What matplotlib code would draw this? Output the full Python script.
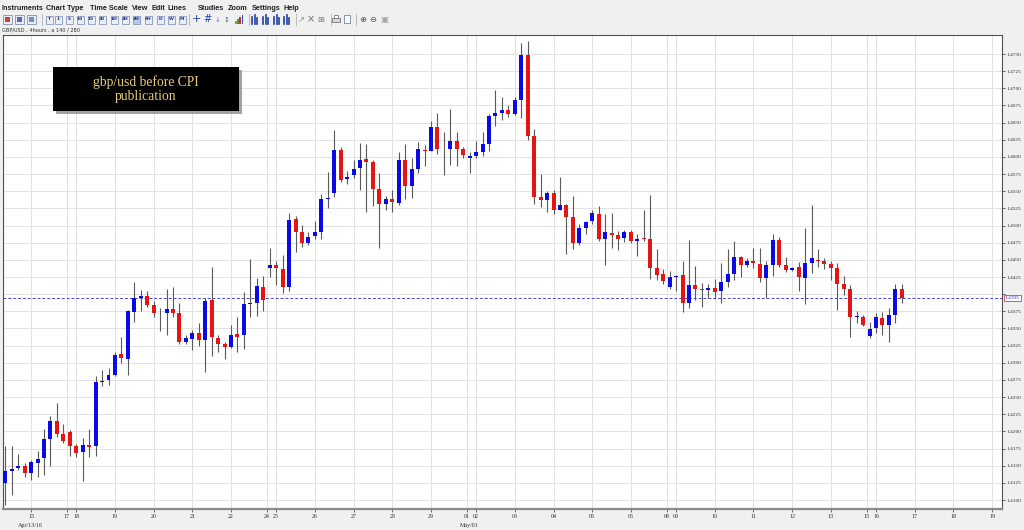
import matplotlib
matplotlib.use("Agg")
from matplotlib import pyplot as plt, patches
import numpy as np

# 4-hour GBP/USD candles, 140 bars (Apr 14 - May 16)
opens = [1.4125, 1.4143, 1.4147, 1.4150, 1.4139, 1.4154, 1.4161, 1.4189, 1.4215, 1.4196,
         1.4199, 1.4178, 1.4170, 1.4180, 1.4178, 1.4272, 1.4275, 1.4282, 1.4313, 1.4306,
         1.4374, 1.4394, 1.4397, 1.4384, 1.4372, 1.4373, 1.4379, 1.4372, 1.4331, 1.4335,
         1.4344, 1.4333, 1.4391, 1.4336, 1.4327, 1.4323, 1.4342, 1.4340, 1.4385, 1.4387,
         1.4411, 1.4438, 1.4442, 1.4437, 1.4411, 1.4509, 1.4491, 1.4474, 1.4485, 1.4490,
         1.4539, 1.4547, 1.4610, 1.4568, 1.4573, 1.4584, 1.4597, 1.4592, 1.4553, 1.4532,
         1.4538, 1.4533, 1.4596, 1.4558, 1.4582, 1.4610, 1.4609, 1.4643, 1.4611, 1.4611,
         1.4623, 1.4612, 1.4599, 1.4602, 1.4607, 1.4619, 1.4660, 1.4664, 1.4668, 1.4662,
         1.4683, 1.4748, 1.4630, 1.4541, 1.4537, 1.4547, 1.4523, 1.4530, 1.4512, 1.4474,
         1.4497, 1.4506, 1.4517, 1.4480, 1.4489, 1.4486, 1.4482, 1.4491, 1.4477, 1.4481,
         1.4480, 1.4438, 1.4429, 1.4411, 1.4425, 1.4428, 1.4387, 1.4414, 1.4407, 1.4406,
         1.4409, 1.4404, 1.4418, 1.4429, 1.4454, 1.4442, 1.4449, 1.4444, 1.4424, 1.4442,
         1.4479, 1.4442, 1.4435, 1.4439, 1.4423, 1.4445, 1.4450, 1.4449, 1.4444, 1.4438,
         1.4415, 1.4407, 1.4367, 1.4367, 1.4339, 1.4350, 1.4365, 1.4355, 1.4370, 1.4408]
highs = [1.4178, 1.4178, 1.4167, 1.4154, 1.4158, 1.4171, 1.4204, 1.4223, 1.4241, 1.4211,
         1.4202, 1.4182, 1.4191, 1.4204, 1.4281, 1.4290, 1.4292, 1.4316, 1.4338, 1.4377,
         1.4418, 1.4406, 1.4404, 1.4390, 1.4380, 1.4407, 1.4410, 1.4387, 1.4341, 1.4348,
         1.4358, 1.4395, 1.4439, 1.4341, 1.4331, 1.4355, 1.4367, 1.4403, 1.4451, 1.4424,
         1.4426, 1.4467, 1.4449, 1.4457, 1.4519, 1.4514, 1.4501, 1.4490, 1.4507, 1.4546,
         1.4578, 1.4639, 1.4614, 1.4580, 1.4596, 1.4621, 1.4619, 1.4595, 1.4576, 1.4543,
         1.4552, 1.4607, 1.4619, 1.4599, 1.4622, 1.4617, 1.4653, 1.4664, 1.4637, 1.4670,
         1.4637, 1.4614, 1.4607, 1.4623, 1.4636, 1.4663, 1.4697, 1.4688, 1.4675, 1.4687,
         1.4766, 1.4769, 1.4641, 1.4575, 1.4550, 1.4552, 1.4571, 1.4531, 1.4543, 1.4502,
         1.4507, 1.4522, 1.4529, 1.4517, 1.4519, 1.4492, 1.4493, 1.4493, 1.4488, 1.4522,
         1.4544, 1.4466, 1.4437, 1.4434, 1.4428, 1.4449, 1.4479, 1.4441, 1.4416, 1.4415,
         1.4422, 1.4445, 1.4466, 1.4477, 1.4455, 1.4452, 1.4467, 1.4467, 1.4449, 1.4488,
         1.4484, 1.4454, 1.4439, 1.4447, 1.4497, 1.4530, 1.4466, 1.4453, 1.4448, 1.4445,
         1.4426, 1.4413, 1.4375, 1.4369, 1.4359, 1.4372, 1.4374, 1.4380, 1.4415, 1.4415]
lows = [1.4093, 1.4107, 1.4144, 1.4133, 1.4129, 1.4133, 1.4136, 1.4149, 1.4192, 1.4183,
        1.4164, 1.4162, 1.4128, 1.4162, 1.4164, 1.4266, 1.4268, 1.4281, 1.4299, 1.4282,
        1.4360, 1.4376, 1.4382, 1.4366, 1.4347, 1.4340, 1.4366, 1.4327, 1.4327, 1.4319,
        1.4324, 1.4286, 1.4310, 1.4315, 1.4305, 1.4321, 1.4315, 1.4320, 1.4366, 1.4368,
        1.4376, 1.4425, 1.4414, 1.4401, 1.4404, 1.4462, 1.4469, 1.4472, 1.4481, 1.4481,
        1.4525, 1.4542, 1.4563, 1.4560, 1.4569, 1.4552, 1.4520, 1.4529, 1.4467, 1.4523,
        1.4520, 1.4530, 1.4539, 1.4540, 1.4577, 1.4587, 1.4608, 1.4605, 1.4573, 1.4588,
        1.4587, 1.4599, 1.4577, 1.4598, 1.4602, 1.4608, 1.4645, 1.4654, 1.4658, 1.4661,
        1.4657, 1.4625, 1.4531, 1.4527, 1.4520, 1.4517, 1.4522, 1.4458, 1.4466, 1.4472,
        1.4487, 1.4502, 1.4477, 1.4443, 1.4467, 1.4464, 1.4476, 1.4475, 1.4455, 1.4478,
        1.4422, 1.4421, 1.4415, 1.4408, 1.4404, 1.4374, 1.4380, 1.4391, 1.4382, 1.4394,
        1.4393, 1.4387, 1.4410, 1.4420, 1.4425, 1.4440, 1.4438, 1.4417, 1.4394, 1.4426,
        1.4440, 1.4433, 1.4434, 1.4404, 1.4386, 1.4431, 1.4439, 1.4436, 1.4421, 1.4377,
        1.4399, 1.4338, 1.4358, 1.4354, 1.4336, 1.4344, 1.4341, 1.4331, 1.4358, 1.4387]
closes = [1.4142, 1.4145, 1.4150, 1.4140, 1.4155, 1.4160, 1.4189, 1.4215, 1.4196, 1.4186,
          1.4178, 1.4168, 1.4180, 1.4177, 1.4272, 1.4273, 1.4282, 1.4312, 1.4307, 1.4375,
          1.4394, 1.4397, 1.4384, 1.4372, 1.4373, 1.4379, 1.4373, 1.4331, 1.4336, 1.4344,
          1.4333, 1.4390, 1.4337, 1.4327, 1.4323, 1.4341, 1.4338, 1.4385, 1.4387, 1.4412,
          1.4392, 1.4442, 1.4438, 1.4411, 1.4508, 1.4491, 1.4474, 1.4484, 1.4490, 1.4539,
          1.4540, 1.4610, 1.4567, 1.4571, 1.4583, 1.4596, 1.4593, 1.4553, 1.4532, 1.4538,
          1.4534, 1.4596, 1.4558, 1.4582, 1.4611, 1.4609, 1.4643, 1.4611, 1.4612, 1.4623,
          1.4612, 1.4603, 1.4602, 1.4607, 1.4619, 1.4659, 1.4664, 1.4668, 1.4663, 1.4683,
          1.4748, 1.4630, 1.4541, 1.4537, 1.4547, 1.4522, 1.4530, 1.4512, 1.4474, 1.4496,
          1.4505, 1.4518, 1.4480, 1.4490, 1.4486, 1.4481, 1.4490, 1.4478, 1.4481, 1.4480,
          1.4438, 1.4428, 1.4419, 1.4425, 1.4427, 1.4387, 1.4414, 1.4408, 1.4406, 1.4409,
          1.4403, 1.4418, 1.4429, 1.4454, 1.4442, 1.4449, 1.4445, 1.4424, 1.4442, 1.4479,
          1.4442, 1.4435, 1.4438, 1.4425, 1.4446, 1.4452, 1.4449, 1.4444, 1.4438, 1.4415,
          1.4407, 1.4367, 1.4368, 1.4355, 1.4349, 1.4367, 1.4355, 1.4369, 1.4408, 1.4395]

# day labels on the time axis and the bar where each day begins
day_labels = ['15', '17', '18', '19', '20', '21', '22', '24', '25', '26', '27', '28', '29',
              '01', '02', '03', '04', '05', '06', '08', '09', '10', '11', '12', '13',
              '15', '16', '17', '18', '19']
day_start = [4, 10, 11, 17, 23, 29, 35, 41, 42, 48, 54, 60, 66,
             72, 73, 79, 85, 91, 97, 103, 104, 110, 116, 122, 128,
             134, 135, 141, 147, 153]
month_labels = ['Apr/13/16', 'May/01']
month_at = [4, 72]

last_price = 1.4395
title_lines = "gbp/usd before CPI\npublication"
header = "GBP/USD , 4hours , a 140 / 280"
menu_items = ['Instruments', 'Chart Type', 'Time Scale', 'View', 'Edit', 'Lines',
              'Studies', 'Zoom', 'Settings', 'Help']
menu_x = [2, 46, 90, 132, 152, 168, 198, 228, 252, 284]
tf_buttons = ['T', '1', '5', '10', '15', '30', '1H', '2H', '4H', '8H', 'D', 'W', 'M']
tf_x = [49, 58, 69, 80, 91, 102, 114, 125, 136, 148, 160, 171, 182]

W, H = 1024, 530


def fx(x):
    return x / W


def fy(y):
    return 1 - y / H


def box(x, y, w, h, **kw):
    # rectangle in pixel coords (x, y = top-left, measured from the top)
    fig.patches.append(patches.Rectangle((fx(x), fy(y + h)), w / W, h / H,
                                         transform=fig.transFigure, **kw))


fig = plt.figure(figsize=(W / 100, H / 100), dpi=100, facecolor='#f0f0f0')

# ---- menu + toolbar ----
for name, x in zip(menu_items, menu_x):
    fig.text(fx(x), fy(8), name, fontsize=5.2, fontweight='bold', family='Liberation Sans',
             color='#202020', va='center', ha='left')

# chart type icons
for x, col in zip([3, 15, 27], ['#d04040', '#6060c0', '#7090c0']):
    box(x, 15, 9, 9, facecolor='#e8eef8', edgecolor='#8090b0', lw=0.6)
    box(x + 2, 17, 5, 5, facecolor=col, edgecolor='none')

for lab, x in zip(tf_buttons, tf_x):
    fc = '#b8c8e8' if lab == '4H' else '#e8eef8'
    box(x - 3.5, 15.5, 7, 8, facecolor=fc, edgecolor='#8898c0', lw=0.6)
    fig.text(fx(x), fy(19.5), lab, fontsize=3.2, fontweight='bold', color='#203080',
             ha='center', va='center')

for x in [42, 189, 249, 296, 331, 356]:
    fig.lines.append(plt.Line2D([fx(x), fx(x)], [fy(14), fy(25)], transform=fig.transFigure,
                                color='#b0b0b0', lw=0.6))

tools = [(196, '+', '#2040a0', 8), (207, '#', '#2040a0', 7), (218, '\u2193', '#a060c0', 5),
         (227, '\u2195', '#4060a0', 5), (301, '\u2197', '#909090', 6), (311, '\u00d7', '#707070', 7),
         (321, '\u229e', '#808080', 6), (363, '\u2295', '#3050c0', 6), (373, '\u2296', '#3050c0', 6),
         (384, '\u25a3', '#a0a0a0', 6)]
for x, g, col, s in tools:
    fig.text(fx(x), fy(19.5), g, fontsize=s, color=col, ha='center', va='center', family='DejaVu Sans')

# printer and page icons drawn as shapes
box(332, 18, 8, 4, facecolor='#d8d8d8', edgecolor='#606060', lw=0.5)
box(334, 15, 4, 3, facecolor='white', edgecolor='#606060', lw=0.5)
box(344, 15, 6, 8, facecolor='white', edgecolor='#5070a0', lw=0.5)

# bar chart icon
for k, (hh, col) in enumerate(zip([3, 5, 7, 9], ['#d08020', '#40a040', '#c03030', '#3050c0'])):
    box(235 + k * 2.2, 24 - hh, 1.8, hh, facecolor=col, edgecolor='none')
# candle icons
for x in [254, 265, 276, 286]:
    for dx, hh in [(-2, 7), (1, 9), (3, 6)]:
        fig.lines.append(plt.Line2D([fx(x + dx), fx(x + dx)], [fy(24), fy(24 - hh)],
                                    transform=fig.transFigure, color='#2040a0', lw=1.2))

fig.text(fx(2), fy(30.5), header, fontsize=3.6, color='#303030', va='center', ha='left')

# ---- price chart ----
ax = fig.add_axes([fx(3), fy(509), (1002 - 3) / W, (509 - 35) / H])
ax.set_facecolor('white')

o = np.array(opens)
h = np.array(highs)
l = np.array(lows)
c = np.array(closes)
idx = np.arange(len(o))
up = c >= o
cols = np.where(up, '#0a0ae6', '#e61414')

ax.vlines(idx, l, h, color='#5a5a5a', lw=0.8, zorder=3)
body = np.maximum(np.abs(c - o), 0.00012)
ax.bar(idx, body, bottom=np.minimum(o, c), width=0.62, color=cols, lw=0, zorder=4)

ax.axhline(last_price, color='#4848d8', ls=(0, (3, 2)), lw=0.7, zorder=2)

ax.set_xlim(-0.357, 154.53)
ax.set_ylim(1.40869, 1.47777)

yt = np.arange(1.4100, 1.47501, 0.0025)
ax.yaxis.tick_right()
ax.set_yticks(yt)
ax.set_yticklabels(['' if abs(v - 1.44) < 1e-6 else f'{v:.4f}' for v in yt],
                   fontsize=3.9, family='Liberation Serif', color='#303030')

# sunday bars: labels sit a little left of the bar
xt = []
for k, s in enumerate(day_start):
    nxt = day_start[k + 1] if k + 1 < len(day_start) else s + 6
    xt.append(s - 0.45 if nxt - s == 1 else s)
ax.set_xticks(xt)
ax.set_xticklabels(day_labels, fontsize=4.3, family='Liberation Serif', color='#303030')
ax.tick_params(axis='both', length=2.2, width=0.6, color='#505050', pad=1.2)

ax.grid(True, color='#e2e2e2', lw=0.7, zorder=0)
ax.set_axisbelow(True)
for side in ['left', 'top', 'right']:
    ax.spines[side].set_color('#505050')
    ax.spines[side].set_linewidth(0.8)
ax.spines['bottom'].set_color('#8a8a8a')
ax.spines['bottom'].set_linewidth(1.6)

for lab, i in zip(month_labels, month_at):
    xpix = 5.3 + i * 6.45 - (1 if lab.startswith('Apr') else 0)
    fig.text(fx(xpix), fy(526), lab, fontsize=4.3, family='Liberation Serif', color='#303030',
             ha='center', va='center')

ax.annotate(f'{last_price:.4f}', xy=(1.0, last_price), xycoords=('axes fraction', 'data'),
            xytext=(2.0, 0), textcoords='offset points', fontsize=3.9, family='Liberation Serif',
            color='#3030c0', va='center', ha='left', annotation_clip=False,
            bbox=dict(boxstyle='square,pad=0.2', fc='white', ec='#e04040', lw=0.6))

# ---- title box ----
box(56, 70, 186, 44, facecolor='#8c8c8c', edgecolor='none', alpha=0.8, zorder=10)
box(53, 67, 186, 44, facecolor='black', edgecolor='none', zorder=11)
fig.text(fx(146), fy(89), title_lines, fontsize=9.8, family='Liberation Serif', color='#e6cc78',
         ha='center', va='center', linespacing=1.05, zorder=12)

fig.savefig('out.png', dpi=100, facecolor=fig.get_facecolor())
